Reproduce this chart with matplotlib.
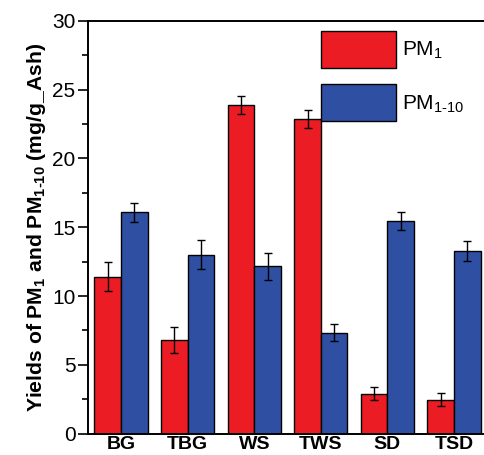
import numpy as np
import matplotlib
matplotlib.use("Agg")
import matplotlib.pyplot as plt
from matplotlib.ticker import MultipleLocator

plt.rcParams['font.family'] = ['Liberation Sans', 'DejaVu Sans']
plt.rcParams['mathtext.fontset'] = 'custom'
plt.rcParams['mathtext.rm'] = 'Liberation Sans'
plt.rcParams['mathtext.bf'] = 'Liberation Sans:bold'

# data
categories = ['BG', 'TBG', 'WS', 'TWS', 'SD', 'TSD']
pm1 = [11.4, 6.8, 23.9, 22.85, 2.9, 2.45]
pm1_err = [1.05, 0.95, 0.65, 0.65, 0.48, 0.47]
pm110 = [16.1, 13.0, 12.15, 7.35, 15.45, 13.25]
pm110_err = [0.7, 1.05, 1.0, 0.63, 0.65, 0.73]

red = '#ec1c24'
blue = '#2f4fa3'

fig = plt.figure(figsize=(4.84, 4.55), dpi=100)
ax = fig.add_axes([0.182, 0.047, 0.818, 0.907])

x = np.arange(len(categories))
w = 0.4
err_kw = dict(ecolor='black', elinewidth=1.0, capsize=3, capthick=1.0)
ax.bar(x - w / 2, pm1, w, yerr=pm1_err, color=red, edgecolor='black',
       linewidth=1.0, error_kw=err_kw, label='PM$_1$')
ax.bar(x + w / 2, pm110, w, yerr=pm110_err, color=blue, edgecolor='black',
       linewidth=1.0, error_kw=err_kw, label='PM$_{1\u201010}$')

ax.set_xlim(-0.495, 5.45)
ax.set_ylim(0, 30)
ax.set_xticks(x)
ax.set_xticklabels(categories, fontweight='bold', fontsize=14)
ax.tick_params(axis='x', length=0, pad=2)
ax.yaxis.set_major_locator(MultipleLocator(5))
ax.yaxis.set_minor_locator(MultipleLocator(2.5))
ax.tick_params(axis='y', which='major', length=7, width=1.2, labelsize=15, pad=2)
ax.tick_params(axis='y', which='minor', length=4, width=1.2)
ax.spines['right'].set_visible(False)
for s in ['left', 'top', 'bottom']:
    ax.spines[s].set_linewidth(1.4)

ax.set_ylabel('Yields of PM$_\\mathbf{1}$ and PM$_\\mathbf{1\u201010}$ (mg/g_Ash)',
              fontweight='bold', fontsize=15.2, labelpad=3)

ax.legend(loc='upper left', bbox_to_anchor=(0.663, 0.932),
          bbox_transform=fig.transFigure, frameon=False, fontsize=15,
          handlelength=3.6, handleheight=2.36, labelspacing=0.78,
          handletextpad=0.3, borderpad=0, borderaxespad=0)

fig.savefig('out.png', dpi=100)
